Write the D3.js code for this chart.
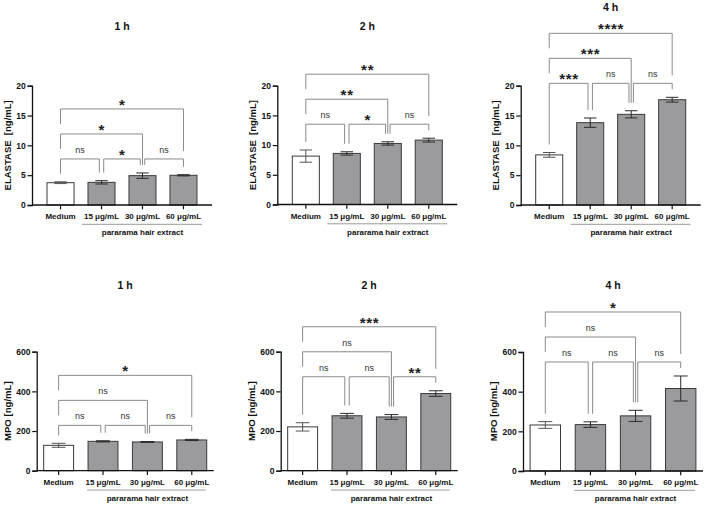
<!DOCTYPE html>
<html>
<head>
<meta charset="utf-8">
<script src="https://cdn.jsdelivr.net/npm/d3@7"></script>
<style>
  html, body { margin: 0; padding: 0; background: #fff; }
  svg { display: block; }
  text { font-family: 'Liberation Sans', Arial, sans-serif; }
</style>
</head>
<body>
<svg id="chart" width="707" height="507"></svg>
<script>
// ---------------- DATA ----------------
const categories = ["Medium", "15 \u03BCg/mL", "30 \u03BCg/mL", "60 \u03BCg/mL"];
const groupLabel = "pararama hair extract";
const titles = ["1 h", "2 h", "4 h"];

const elastaseTicks = [0, 5, 10, 15, 20];
const mpoTicks = [0, 200, 400, 600];

const elastase1h = [3.74, 3.8, 4.92, 4.98];
const elastase1hErr = [0.15, 0.28, 0.45, 0.1];
const elastase2h = [8.15, 8.6, 10.28, 10.84];
const elastase2hErr = [1.03, 0.28, 0.28, 0.32];
const elastase4h = [8.4, 13.8, 15.2, 17.65];
const elastase4hErr = [0.4, 0.78, 0.6, 0.4];

const mpo1h = [128, 148, 145, 155];
const mpo1hErr = [10, 3, 2, 3];
const mpo2h = [221, 277, 271, 389];
const mpo2hErr = [21, 12, 12, 14];
const mpo4h = [232, 234, 278, 416];
const mpo4hErr = [17, 14, 28, 63];

// significance brackets: [fromIndex, toIndex, label]
const sigElastase1h = [[0,1,"ns"],[1,2,"*"],[2,3,"ns"],[0,2,"*"],[0,3,"*"]];
const sigElastase2h = [[0,1,"ns"],[1,2,"*"],[2,3,"ns"],[0,2,"**"],[0,3,"**"]];
const sigElastase4h = [[0,1,"***"],[1,2,"ns"],[2,3,"ns"],[0,2,"***"],[0,3,"****"]];
const sigMpo1h = [[0,1,"ns"],[1,2,"ns"],[2,3,"ns"],[0,2,"ns"],[0,3,"*"]];
const sigMpo2h = [[0,1,"ns"],[1,2,"ns"],[2,3,"**"],[0,2,"ns"],[0,3,"***"]];
const sigMpo4h = [[0,1,"ns"],[1,2,"ns"],[2,3,"ns"],[0,2,"ns"],[0,3,"*"]];

// ---------------- LAYOUT ----------------
const svg = d3.select("#chart");
const FONT = "'Liberation Sans', Arial, sans-serif";

const panels = [
  {title: titles[0], values: elastase1h, errs: elastase1hErr, sig: sigElastase1h, ticks: elastaseTicks, ymax: 20,
   ylabel: "ELASTASE  [ng/mL]", left: 32, width: 180, bottom: 205, top: 85.7, titleY: 26, row: 0},
  {title: titles[1], values: elastase2h, errs: elastase2hErr, sig: sigElastase2h, ticks: elastaseTicks, ymax: 20,
   ylabel: "ELASTASE  [ng/mL]", left: 277.3, width: 180, bottom: 204.5, top: 85.7, titleY: 26, row: 0},
  {title: titles[2], values: elastase4h, errs: elastase4hErr, sig: sigElastase4h, ticks: elastaseTicks, ymax: 20,
   ylabel: "ELASTASE  [ng/mL]", left: 520.7, width: 180, bottom: 205, top: 85.7, titleY: 7.5, row: 0},
  {title: titles[0], values: mpo1h, errs: mpo1hErr, sig: sigMpo1h, ticks: mpoTicks, ymax: 600,
   ylabel: "MPO [ng/mL]", left: 36.7, width: 177, bottom: 470.7, top: 351.7, titleY: 285, row: 1},
  {title: titles[1], values: mpo2h, errs: mpo2hErr, sig: sigMpo2h, ticks: mpoTicks, ymax: 600,
   ylabel: "MPO [ng/mL]", left: 280.7, width: 177, bottom: 470.7, top: 351.7, titleY: 285, row: 1},
  {title: titles[2], values: mpo4h, errs: mpo4hErr, sig: sigMpo4h, ticks: mpoTicks, ymax: 600,
   ylabel: "MPO [ng/mL]", left: 523, width: 180, bottom: 471, top: 352, titleY: 285, row: 1}
];

panels.forEach(drawPanel);

function drawPanel(p) {
  const g = svg.append("g");
  const n = categories.length;
  const top = p.row === 0;

  const x = d3.scaleBand().domain(d3.range(n))
    .range([p.left, p.left + p.width])
    .paddingInner(top ? 0.34 : 0.326)
    .paddingOuter(top ? 0.366 : 0.157);
  const bw = x.bandwidth();
  const cx = i => x(i) + bw / 2;
  const y = d3.scaleLinear().domain([0, p.ymax]).range([p.bottom, p.top]);

  // bars
  g.selectAll("rect.bar").data(p.values).enter().append("rect")
    .attr("x", (d, i) => x(i))
    .attr("y", d => y(d))
    .attr("width", bw)
    .attr("height", d => y(0) - y(d))
    .attr("fill", (d, i) => i === 0 ? "#ffffff" : "#9b9b9e")
    .attr("stroke", "#3a3a3a")
    .attr("stroke-width", 1);

  // error bars
  const capW = bw * 0.46;
  p.values.forEach((v, i) => {
    const e = p.errs[i];
    const c = cx(i);
    const col = i === 0 ? "#555" : "#2a2a2a";
    g.append("line").attr("x1", c).attr("x2", c).attr("y1", y(v - e)).attr("y2", y(v + e))
      .attr("stroke", col).attr("stroke-width", 1);
    [v - e, v + e].forEach(t => {
      g.append("line").attr("x1", c - capW / 2).attr("x2", c + capW / 2).attr("y1", y(t)).attr("y2", y(t))
        .attr("stroke", col).attr("stroke-width", 1);
    });
  });

  // y axis
  const yAxis = d3.axisLeft(y).tickValues(p.ticks).tickSize(4.5).tickPadding(1.8).tickFormat(d3.format("d"));
  const ya = g.append("g").attr("transform", `translate(${p.left},0)`).call(yAxis);
  ya.select(".domain").attr("stroke", "#111").attr("stroke-width", 1.3);
  ya.selectAll(".tick line").attr("stroke", "#111").attr("stroke-width", 1.2);
  ya.selectAll(".tick text").attr("font-family", FONT).attr("font-size", 8.5).attr("font-weight", "bold").attr("fill", "#111");

  // x axis
  const xa = g.append("g").attr("transform", `translate(0,${p.bottom})`);
  xa.append("line").attr("x1", p.left).attr("x2", p.left + p.width).attr("y1", 0).attr("y2", 0)
    .attr("stroke", "#111").attr("stroke-width", 1.3);
  categories.forEach((c, i) => {
    xa.append("line").attr("x1", cx(i)).attr("x2", cx(i)).attr("y1", 0).attr("y2", 4.3)
      .attr("stroke", "#111").attr("stroke-width", 1.2);
    xa.append("text").attr("x", cx(i)).attr("y", 14).attr("text-anchor", "middle")
      .attr("font-size", 8).attr("font-weight", "bold").attr("fill", "#111").text(c);
  });

  // group underline + label
  const gl = x(1) - (top ? 6 : 1), gr = x(n - 1) + bw + (top ? 5 : -1);
  xa.append("line").attr("x1", gl).attr("x2", gr).attr("y1", 19.3).attr("y2", 19.3)
    .attr("stroke", "#9a9a9a").attr("stroke-width", 1);
  xa.append("text").attr("x", (cx(1) + cx(n - 1)) / 2 + (top ? 0 : 0)).attr("y", 30)
    .attr("text-anchor", "middle").attr("font-size", 8).attr("font-weight", "bold").attr("fill", "#111").text(groupLabel);

  // y label
  const yl = top ? 24.8 : 29;
  g.append("text")
    .attr("transform", `translate(${p.left - yl},${(p.top + p.bottom) / 2}) rotate(-90)`)
    .attr("text-anchor", "middle").attr("dy", "0.36em")
    .attr("font-size", top ? 9.5 : 9.6).attr("font-weight", "bold").attr("fill", "#111")
    .style("white-space", "pre").text(p.ylabel);

  // title
  g.append("text").attr("x", p.left + p.width / 2).attr("y", p.titleY).attr("dy", "0.36em")
    .attr("text-anchor", "middle").attr("font-size", 10.5).attr("font-weight", "bold").attr("fill", "#111")
    .text(p.title);

  // significance brackets
  const maxTop = d3.max(p.values.map((v, i) => v + p.errs[i]));
  const base = y(maxTop) - 14;
  const br = p.sig.map(([a, b, label]) => {
    const level = b - a;
    const xa1 = cx(a) + (level === 1 && a > 0 ? 2.2 : 0);
    const xb1 = cx(b) - (level === 1 && b < n - 1 ? 2.2 : 0);
    return {a, b, label, level, xa: xa1, xb: xb1, y: base - 25 * (level - 1)};
  });

  function legEnd(bk, xPos, barIdx) {
    let nearest = y(p.values[barIdx] + p.errs[barIdx]);
    let gap = 8;
    br.forEach(o => {
      if (o.level < bk.level && xPos >= o.xa - 0.5 && xPos <= o.xb + 0.5 && o.y < nearest) {
        nearest = o.y;
        gap = Math.abs(o.xa - xPos) < 0.6 ? 10 : 8;
      }
    });
    return nearest - gap;
  }

  br.forEach(bk => {
    const endA = legEnd(bk, bk.xa, bk.a);
    const endB = legEnd(bk, bk.xb, bk.b);
    g.append("path")
      .attr("d", `M${bk.xa},${endA}V${bk.y}H${bk.xb}V${endB}`)
      .attr("fill", "none").attr("stroke", "#8a8a8a").attr("stroke-width", 1);
    const mid = (bk.xa + bk.xb) / 2;
    if (bk.label === "ns") {
      g.append("text").attr("x", mid).attr("y", bk.y - 6).attr("text-anchor", "middle")
        .attr("font-size", 9).attr("fill", "#333").text("ns");
    } else {
      g.append("text").attr("x", mid + 0.35).attr("y", bk.y + 1).attr("text-anchor", "middle")
        .attr("font-size", 15).attr("font-weight", "bold").attr("letter-spacing", 0.7).attr("fill", "#222").text(bk.label);
    }
  });
}
</script>
</body>
</html>
